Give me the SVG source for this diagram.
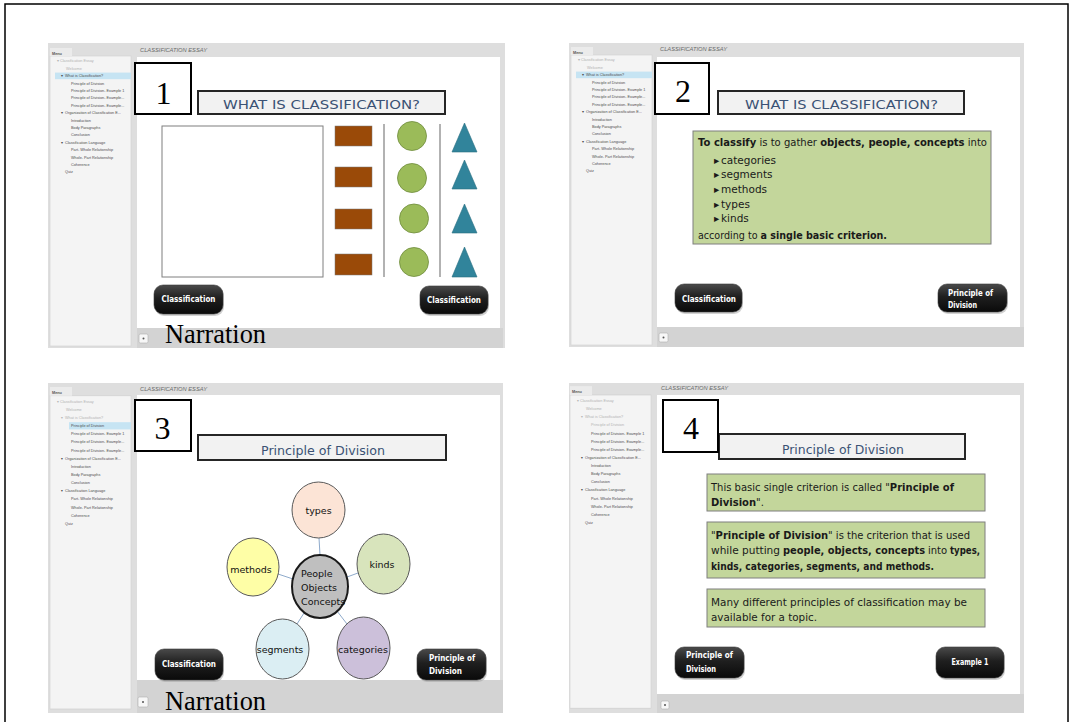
<svg xmlns="http://www.w3.org/2000/svg" width="1073" height="722" viewBox="0 0 1073 722">
  <defs>
    <linearGradient id="btnFill" x1="0" y1="0" x2="0" y2="1">
      <stop offset="0" stop-color="#4a4a4a"/>
      <stop offset="0.45" stop-color="#1f1f1f"/>
      <stop offset="1" stop-color="#0a0a0a"/>
    </linearGradient>
    <style>
      .frame { fill: none; stroke: #000; stroke-width: 1.5; }
      .shell { fill: #dedede; }
      .side { fill: #f4f4f4; stroke: #cfcfcf; stroke-width: 0.6; }
      .tab { fill: #ebebeb; }
      .mh { font-family: "Liberation Sans", sans-serif; font-size: 3.8px; font-weight: bold; fill: #555; }
      .mi { font-family: "Liberation Sans", sans-serif; font-size: 3.8px; fill: #4d4d4d; }
      .mv { fill: #b3b3b3; }
      .hl { fill: #c6e4f3; }
      .ht { font-family: "Liberation Sans", sans-serif; font-style: italic; font-size: 5px; fill: #6a6a6a; }
      .page { fill: #fff; }
      .bar { fill: #d3d3d3; }
      .ico { fill: #f7f7f7; stroke: #b0b0b0; stroke-width: 0.6; }
      .icod { fill: #555; }
      .num { fill: #fff; stroke: #000; stroke-width: 2; }
      .numt { font-family: "Liberation Serif", serif; font-size: 32px; fill: #000; text-anchor: middle; }
      .ttl { fill: #f2f2f2; stroke: #262626; stroke-width: 2; }
      .ttlt { font-family: "DejaVu Sans", sans-serif; font-size: 13px; fill: #3b5275; text-anchor: middle; }
      .shd { fill: #9a9a9a; opacity: 0.45; }
      .btn { fill: url(#btnFill); stroke: #3a3a3a; stroke-width: 0.6; }
      .btnt { font-family: "DejaVu Sans", sans-serif; font-weight: bold; font-size: 8.5px; fill: #fff; }
      .mid { text-anchor: middle; }
      .box { fill: #c3d69b; stroke: #7f7f7f; stroke-width: 1; }
      .bt { font-family: "DejaVu Sans", sans-serif; font-size: 10.5px; fill: #1a1a1a; }
      .bts { font-family: "DejaVu Sans", sans-serif; font-size: 9.6px; fill: #1a1a1a; }
      .bt4 { font-family: "DejaVu Sans", sans-serif; font-size: 10px; fill: #1a1a1a; }
      .b { font-weight: bold; }
      .narr { font-family: "Liberation Serif", serif; font-size: 26.5px; fill: #000; }
      .brown { fill: #9a4a08; stroke: #7a7a7a; stroke-width: 0.5; }
      .disc { fill: #9bbb59; stroke: #6f8b3c; stroke-width: 0.8; }
      .tri { fill: #31849b; stroke: #2a6f82; stroke-width: 0.6; }
      .sep { stroke: #7f7f7f; stroke-width: 1.2; }
      .node { stroke: #595959; stroke-width: 1; }
      .nt { font-family: "DejaVu Sans", sans-serif; font-size: 9.5px; fill: #111; text-anchor: middle; }
      .ntl { font-family: "DejaVu Sans", sans-serif; font-size: 9.5px; fill: #111; }
      .spoke { stroke: #8eaacb; stroke-width: 1; fill: none; }
    </style>
  </defs>

  <rect width="1073" height="722" fill="#fff"/>
  <rect class="frame" x="5" y="4" width="1063" height="740"/>

  <!-- ===== Slide 1 ===== -->
  <g id="slide-1">
    <rect class="shell" x="48" y="43" width="457" height="305"/>
    <g id="menu-1" transform="translate(48,43)">
      <rect class="side" x="2" y="13" width="81" height="290"/>
      <rect class="tab" x="2" y="5" width="22" height="8"/>
      <text class="mh" x="4" y="11.5">Menu</text>
      <rect class="hl" x="7" y="29.6" width="76" height="6.6"/>
      <text class="mi mv" x="9" y="19.4">▾</text><text class="mi mv" x="12" y="19.4">Classification Essay</text>
      <text class="mi mv" x="18" y="26.8">Welcome</text>
      <text class="mi" x="13" y="34.2">▾</text><text class="mi" x="17" y="34.2">What is Classification?</text>
      <text class="mi" x="23" y="41.6">Principle of Division</text>
      <text class="mi" x="23" y="49">Principle of Division- Example 1</text>
      <text class="mi" x="23" y="56.4">Principle of Division- Example...</text>
      <text class="mi" x="23" y="63.8">Principle of Division- Example...</text>
      <text class="mi" x="13" y="71.2">▾</text><text class="mi" x="17" y="71.2">Organization of Classification E...</text>
      <text class="mi" x="23" y="78.6">Introduction</text>
      <text class="mi" x="23" y="86">Body Paragraphs</text>
      <text class="mi" x="23" y="93.4">Conclusion</text>
      <text class="mi" x="13" y="100.8">▾</text><text class="mi" x="17" y="100.8">Classification Language</text>
      <text class="mi" x="23" y="108.2">Part- Whole Relationship</text>
      <text class="mi" x="23" y="115.6">Whole- Part Relationship</text>
      <text class="mi" x="23" y="123">Coherence</text>
      <text class="mi" x="17" y="130.4">Quiz</text>
    </g>
    <text class="ht" x="140" y="51.5" textLength="67" lengthAdjust="spacingAndGlyphs">CLASSIFICATION ESSAY</text>
    <rect class="page" x="137" y="57" width="363" height="271"/>
    <rect class="bar" x="137" y="328" width="366" height="20"/>
    <rect class="ico" x="139" y="334" width="9" height="9" rx="1.5"/>
    <circle class="icod" cx="143.5" cy="338.5" r="1"/>

    <rect class="ttl" x="198" y="91" width="247" height="23"/>
    <text class="ttlt" x="321.5" y="108.7" textLength="197" lengthAdjust="spacingAndGlyphs">WHAT IS CLASSIFICATION?</text>
    <rect class="num" x="135" y="63" width="56" height="51"/>
    <text class="numt" x="163.5" y="104">1</text>

    <rect x="162" y="126" width="161" height="151" fill="#fff" stroke="#7f7f7f" stroke-width="1"/>
    <rect class="brown" x="335" y="126" width="37" height="20"/>
    <rect class="brown" x="335" y="167" width="37" height="20"/>
    <rect class="brown" x="335" y="209" width="37" height="20"/>
    <rect class="brown" x="335" y="254" width="37" height="21"/>
    <line class="sep" x1="384" y1="124" x2="384" y2="277"/>
    <line class="sep" x1="440" y1="124" x2="440" y2="277"/>
    <circle class="disc" cx="412" cy="136" r="14.5"/>
    <circle class="disc" cx="412" cy="178" r="14.5"/>
    <circle class="disc" cx="414" cy="218.5" r="14.5"/>
    <circle class="disc" cx="414" cy="262" r="14.5"/>
    <polygon class="tri" points="452,152 477,152 464.5,123"/>
    <polygon class="tri" points="452,189 477,189 464.5,160"/>
    <polygon class="tri" points="452,233 477,233 464.5,204"/>
    <polygon class="tri" points="452,277 477,277 464.5,247"/>

    <rect class="shd" x="155" y="287" width="69" height="29" rx="9"/>
    <rect class="btn" x="154" y="285" width="69" height="29" rx="9"/>
    <text class="btnt mid" x="188.5" y="302" textLength="54" lengthAdjust="spacingAndGlyphs">Classification</text>
    <rect class="shd" x="421" y="288" width="68" height="28" rx="9"/>
    <rect class="btn" x="420" y="286" width="68" height="28" rx="9"/>
    <text class="btnt mid" x="454" y="302.5" textLength="54" lengthAdjust="spacingAndGlyphs">Classification</text>

    <text class="narr" x="165" y="343" textLength="101" lengthAdjust="spacingAndGlyphs">Narration</text>
  </g>

  <!-- ===== Slide 2 ===== -->
  <g id="slide-2">
    <rect class="shell" x="569" y="43" width="455" height="304"/>
    <g id="menu-2" transform="translate(569,42)">
      <rect class="side" x="2" y="13" width="81" height="290"/>
      <rect class="tab" x="2" y="5" width="22" height="8"/>
      <text class="mh" x="4" y="11.5">Menu</text>
      <rect class="hl" x="7" y="29.6" width="76" height="6.6"/>
      <text class="mi mv" x="9" y="19.4">▾</text><text class="mi mv" x="12" y="19.4">Classification Essay</text>
      <text class="mi mv" x="18" y="26.8">Welcome</text>
      <text class="mi" x="13" y="34.2">▾</text><text class="mi" x="17" y="34.2">What is Classification?</text>
      <text class="mi" x="23" y="41.6">Principle of Division</text>
      <text class="mi" x="23" y="49">Principle of Division- Example 1</text>
      <text class="mi" x="23" y="56.4">Principle of Division- Example...</text>
      <text class="mi" x="23" y="63.8">Principle of Division- Example...</text>
      <text class="mi" x="13" y="71.2">▾</text><text class="mi" x="17" y="71.2">Organization of Classification E...</text>
      <text class="mi" x="23" y="78.6">Introduction</text>
      <text class="mi" x="23" y="86">Body Paragraphs</text>
      <text class="mi" x="23" y="93.4">Conclusion</text>
      <text class="mi" x="13" y="100.8">▾</text><text class="mi" x="17" y="100.8">Classification Language</text>
      <text class="mi" x="23" y="108.2">Part- Whole Relationship</text>
      <text class="mi" x="23" y="115.6">Whole- Part Relationship</text>
      <text class="mi" x="23" y="123">Coherence</text>
      <text class="mi" x="17" y="130.4">Quiz</text>
    </g>
    <text class="ht" x="660" y="51" textLength="67" lengthAdjust="spacingAndGlyphs">CLASSIFICATION ESSAY</text>
    <rect class="page" x="657" y="57" width="363" height="270"/>
    <rect class="bar" x="657" y="327" width="367" height="20"/>
    <rect class="ico" x="659" y="333" width="9" height="9" rx="1.5"/>
    <circle class="icod" cx="663.5" cy="337.5" r="1"/>

    <rect class="ttl" x="718" y="91" width="246" height="23"/>
    <text class="ttlt" x="841.5" y="108.7" textLength="193" lengthAdjust="spacingAndGlyphs">WHAT IS CLASSIFICATION?</text>
    <rect class="num" x="655" y="63" width="54" height="51"/>
    <text class="numt" x="683" y="102">2</text>

    <rect class="box" x="693" y="131" width="298" height="113"/>
    <text class="bts" x="698" y="146" textLength="289" lengthAdjust="spacingAndGlyphs"><tspan class="b">To classify</tspan>  is  to gather <tspan class="b">objects, people, concepts</tspan> into</text>
    <text class="bt" x="714" y="163.5" font-size="7">▸</text><text class="bt" x="721" y="163.5">categories</text>
    <text class="bt" x="714" y="178" font-size="7">▸</text><text class="bt" x="721" y="178">segments</text>
    <text class="bt" x="714" y="192.5" font-size="7">▸</text><text class="bt" x="721" y="192.5">methods</text>
    <text class="bt" x="714" y="207.5" font-size="7">▸</text><text class="bt" x="721" y="207.5">types</text>
    <text class="bt" x="714" y="222" font-size="7">▸</text><text class="bt" x="721" y="222">kinds</text>
    <text class="bts" x="698" y="238.5" textLength="189" lengthAdjust="spacingAndGlyphs">according to <tspan class="b">a single basic criterion.</tspan></text>

    <rect class="shd" x="676" y="286" width="67" height="28" rx="9"/>
    <rect class="btn" x="675" y="284" width="67" height="28" rx="9"/>
    <text class="btnt mid" x="709" y="301.5" textLength="54" lengthAdjust="spacingAndGlyphs">Classification</text>
    <rect class="shd" x="939" y="286" width="69" height="28" rx="9"/>
    <rect class="btn" x="938" y="284" width="69" height="28" rx="9"/>
    <text class="btnt" x="948" y="295.5" textLength="45" lengthAdjust="spacingAndGlyphs">Principle of</text>
    <text class="btnt" x="948" y="308" textLength="29" lengthAdjust="spacingAndGlyphs">Division</text>
  </g>

  <!-- ===== Slide 3 ===== -->
  <g id="slide-3">
    <rect class="shell" x="48" y="383" width="455" height="330"/>
    <g id="menu-3" transform="translate(48,381.5) scale(1,1.099)">
      <rect class="side" x="2" y="13" width="81" height="285"/>
      <rect class="tab" x="2" y="5" width="22" height="8"/>
      <text class="mh" x="4" y="11.5">Menu</text>
      <rect class="hl" x="21" y="37" width="62" height="6.6"/>
      <text class="mi mv" x="9" y="19.4">▾</text><text class="mi mv" x="12" y="19.4">Classification Essay</text>
      <text class="mi mv" x="18" y="26.8">Welcome</text>
      <text class="mi mv" x="13" y="34.2">▾</text><text class="mi mv" x="17" y="34.2">What is Classification?</text>
      <text class="mi" x="23" y="41.6">Principle of Division</text>
      <text class="mi" x="23" y="49">Principle of Division- Example 1</text>
      <text class="mi" x="23" y="56.4">Principle of Division- Example...</text>
      <text class="mi" x="23" y="63.8">Principle of Division- Example...</text>
      <text class="mi" x="13" y="71.2">▾</text><text class="mi" x="17" y="71.2">Organization of Classification E...</text>
      <text class="mi" x="23" y="78.6">Introduction</text>
      <text class="mi" x="23" y="86">Body Paragraphs</text>
      <text class="mi" x="23" y="93.4">Conclusion</text>
      <text class="mi" x="13" y="100.8">▾</text><text class="mi" x="17" y="100.8">Classification Language</text>
      <text class="mi" x="23" y="108.2">Part- Whole Relationship</text>
      <text class="mi" x="23" y="115.6">Whole- Part Relationship</text>
      <text class="mi" x="23" y="123">Coherence</text>
      <text class="mi" x="17" y="130.4">Quiz</text>
    </g>
    <text class="ht" x="140" y="391" textLength="67" lengthAdjust="spacingAndGlyphs">CLASSIFICATION ESSAY</text>
    <rect class="page" x="137" y="395" width="363" height="285"/>
    <rect class="bar" x="137" y="680" width="366" height="33"/>
    <rect class="ico" x="138" y="697" width="10" height="10" rx="1.5"/>
    <circle class="icod" cx="143" cy="702" r="1"/>

    <rect class="ttl" x="198" y="435" width="248" height="25"/>
    <text class="ttlt" x="323" y="454.5" font-size="13.5" textLength="124" lengthAdjust="spacingAndGlyphs">Principle of Division</text>
    <rect class="num" x="135" y="400" width="56" height="51"/>
    <text class="numt" x="162.5" y="439">3</text>

    <!-- spokes from the centre circle -->
    <g id="connectors">
      <line class="spoke" x1="319" y1="538" x2="320" y2="555"/>
      <line class="spoke" x1="278" y1="574" x2="293" y2="579"/>
      <line class="spoke" x1="347" y1="577" x2="358" y2="573"/>
      <line class="spoke" x1="304" y1="613" x2="297" y2="624"/>
      <line class="spoke" x1="337" y1="611" x2="347" y2="624"/>
    </g>

    <g id="node-types">
      <ellipse class="node" cx="318.5" cy="510" rx="26.5" ry="28" fill="#fce4d6"/>
      <text class="nt" x="318.5" y="513.5">types</text>
    </g>
    <g id="node-kinds">
      <ellipse class="node" cx="383.5" cy="564" rx="26.5" ry="30" fill="#d8e4bc"/>
      <text class="nt" x="382" y="567.5">kinds</text>
    </g>
    <g id="node-methods">
      <ellipse class="node" cx="253" cy="567" rx="26" ry="29" fill="#fefea6"/>
      <text class="nt" x="251" y="572.5">methods</text>
    </g>
    <g id="node-segments">
      <ellipse class="node" cx="282.5" cy="649" rx="26.5" ry="30" fill="#dbeef3"/>
      <text class="nt" x="280" y="652.5">segments</text>
    </g>
    <g id="node-categories">
      <ellipse class="node" cx="363.5" cy="648" rx="26.5" ry="31" fill="#ccc0da"/>
      <text class="nt" x="363" y="652.5">categories</text>
    </g>
    <g id="node-centre">
      <ellipse cx="320" cy="586.5" rx="28" ry="31.5" fill="#bfbfbf" stroke="#1a1a1a" stroke-width="2"/>
      <text class="ntl" x="301" y="577">People</text>
      <text class="ntl" x="301" y="590.5">Objects</text>
      <text class="ntl" x="301" y="604.5">Concepts</text>
    </g>

    <rect class="shd" x="156" y="651" width="68" height="31" rx="9"/>
    <rect class="btn" x="155" y="649" width="68" height="31" rx="9"/>
    <text class="btnt mid" x="189" y="667" textLength="54" lengthAdjust="spacingAndGlyphs">Classification</text>
    <rect class="shd" x="418" y="651" width="69" height="31" rx="9"/>
    <rect class="btn" x="417" y="649" width="69" height="31" rx="9"/>
    <text class="btnt" x="429" y="660.5" textLength="46" lengthAdjust="spacingAndGlyphs">Principle of</text>
    <text class="btnt" x="429" y="674" textLength="33" lengthAdjust="spacingAndGlyphs">Division</text>

    <text class="narr" x="165" y="710" textLength="101" lengthAdjust="spacingAndGlyphs">Narration</text>
  </g>

  <!-- ===== Slide 4 ===== -->
  <g id="slide-4">
    <rect class="shell" x="569" y="383" width="455" height="330"/>
    <g id="menu-4" transform="translate(568,380.7) scale(1,1.099)">
      <rect class="side" x="2" y="13" width="81" height="285"/>
      <rect class="tab" x="2" y="5" width="22" height="8"/>
      <text class="mh" x="4" y="11.5">Menu</text>
      <text class="mi mv" x="9" y="19.4">▾</text><text class="mi mv" x="12" y="19.4">Classification Essay</text>
      <text class="mi mv" x="18" y="26.8">Welcome</text>
      <text class="mi mv" x="13" y="34.2">▾</text><text class="mi mv" x="17" y="34.2">What is Classification?</text>
      <text class="mi mv" x="23" y="41.6">Principle of Division</text>
      <text class="mi" x="23" y="49">Principle of Division- Example 1</text>
      <text class="mi" x="23" y="56.4">Principle of Division- Example...</text>
      <text class="mi" x="23" y="63.8">Principle of Division- Example...</text>
      <text class="mi" x="13" y="71.2">▾</text><text class="mi" x="17" y="71.2">Organization of Classification E...</text>
      <text class="mi" x="23" y="78.6">Introduction</text>
      <text class="mi" x="23" y="86">Body Paragraphs</text>
      <text class="mi" x="23" y="93.4">Conclusion</text>
      <text class="mi" x="13" y="100.8">▾</text><text class="mi" x="17" y="100.8">Classification Language</text>
      <text class="mi" x="23" y="108.2">Part- Whole Relationship</text>
      <text class="mi" x="23" y="115.6">Whole- Part Relationship</text>
      <text class="mi" x="23" y="123">Coherence</text>
      <text class="mi" x="17" y="130.4">Quiz</text>
    </g>
    <text class="ht" x="661" y="390" textLength="67" lengthAdjust="spacingAndGlyphs">CLASSIFICATION ESSAY</text>
    <rect class="page" x="657" y="395" width="363" height="299"/>
    <rect class="bar" x="657" y="694" width="367" height="19"/>
    <rect class="ico" x="661" y="701" width="8" height="8" rx="1.5"/>
    <circle class="icod" cx="665" cy="705" r="1"/>

    <rect class="ttl" x="719" y="434" width="246" height="25"/>
    <text class="ttlt" x="843" y="453.5" font-size="13.5" textLength="122" lengthAdjust="spacingAndGlyphs">Principle of Division</text>
    <rect class="num" x="663" y="400" width="55" height="52"/>
    <text class="numt" x="691" y="439">4</text>

    <rect class="box" x="707" y="474" width="278" height="37"/>
    <text class="bt4" x="711" y="490.5" textLength="243" lengthAdjust="spacingAndGlyphs">This basic single criterion is called "<tspan class="b">Principle of</tspan></text>
    <text class="bt4" x="711" y="505.5"><tspan class="b">Division</tspan>".</text>

    <rect class="box" x="707" y="522" width="278" height="56"/>
    <text class="bt4" x="711" y="538.5" textLength="259" lengthAdjust="spacingAndGlyphs">"<tspan class="b">Principle of Division</tspan>" is the criterion that is used</text>
    <text class="bt4" x="711" y="554" font-size="9.5" textLength="69" lengthAdjust="spacingAndGlyphs">while putting</text>
    <text class="bt4 b" x="783" y="554" font-size="9.5" textLength="142" lengthAdjust="spacingAndGlyphs">people, objects, concepts</text>
    <text class="bt4" x="928" y="554" font-size="9.5">into</text>
    <text class="bt4 b" x="950" y="554" font-size="9.5" textLength="30" lengthAdjust="spacingAndGlyphs">types,</text>
    <text class="bt4 b" x="711" y="569.5" textLength="223" lengthAdjust="spacingAndGlyphs">kinds, categories, segments, and methods.</text>

    <rect class="box" x="707" y="589" width="278" height="38"/>
    <text class="bt4" x="711" y="605.5" textLength="256" lengthAdjust="spacingAndGlyphs">Many different principles of classification may be</text>
    <text class="bt4" x="711" y="620.5" textLength="106" lengthAdjust="spacingAndGlyphs">available for a topic.</text>

    <rect class="shd" x="676" y="649" width="69" height="31" rx="9"/>
    <rect class="btn" x="675" y="647" width="69" height="31" rx="9"/>
    <text class="btnt" x="686" y="657.5" textLength="47" lengthAdjust="spacingAndGlyphs">Principle of</text>
    <text class="btnt" x="686" y="672" textLength="30" lengthAdjust="spacingAndGlyphs">Division</text>
    <rect class="shd" x="937" y="649" width="68" height="31" rx="9"/>
    <rect class="btn" x="936" y="647" width="68" height="31" rx="9"/>
    <text class="btnt mid" x="970" y="664.5" textLength="37" lengthAdjust="spacingAndGlyphs">Example 1</text>
  </g>
</svg>
